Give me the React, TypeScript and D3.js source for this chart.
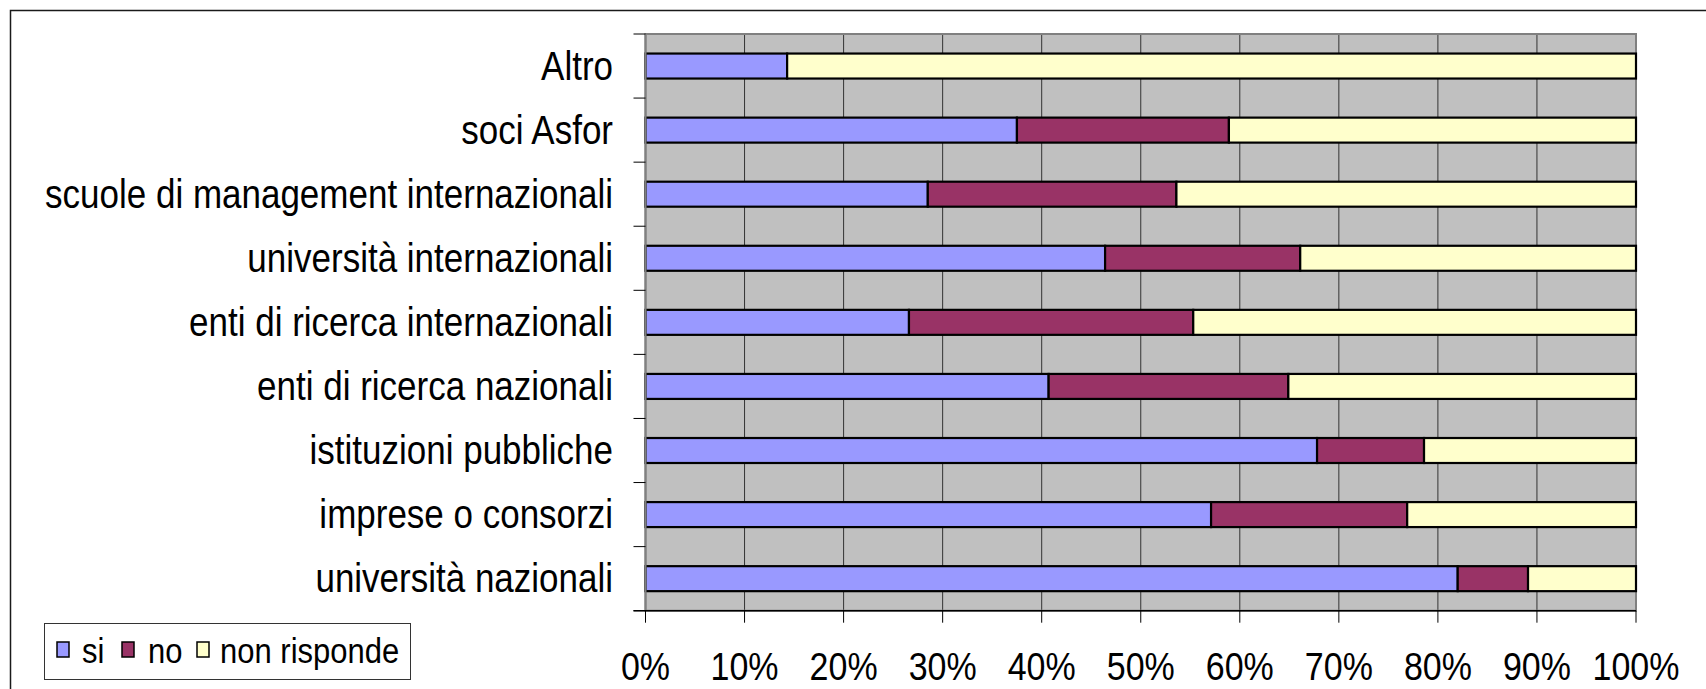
import React from 'react';
import * as d3 from 'd3';

// categories, bottom to top as Excel draws them
const categories = [
  'università nazionali',
  'imprese o consorzi',
  'istituzioni pubbliche',
  'enti di ricerca nazionali',
  'enti di ricerca internazionali',
  'università internazionali',
  'scuole di management internazionali',
  'soci Asfor',
  'Altro',
];
const siValues = [82.0, 57.1, 67.8, 40.7, 26.6, 46.4, 28.5, 37.5, 14.3];
const noValues = [7.1, 19.8, 10.8, 24.2, 28.7, 19.7, 25.1, 21.4, 0];
const nonRispondeValues = [10.9, 23.1, 21.4, 35.1, 44.7, 33.9, 46.4, 41.1, 85.7];
const seriesNames = ['si', 'no', 'non risponde'];
const seriesColors = ['#9999FF', '#993366', '#FFFFCC'];
const xTicks = [0, 10, 20, 30, 40, 50, 60, 70, 80, 90, 100];

const W = 1706;
const H = 689;
const font = '"Liberation Sans", Arial, Helvetica, sans-serif';
const stretch = 1.15; // text in the original is a bit taller than wide

export default function App() {
  const left = 645.5, right = 1636, top = 34, bottom = 610.7;

  const x = d3.scaleLinear().domain([0, 100]).range([left, right]);
  // top of picture = last category
  const y = d3.scaleBand<string>()
    .domain(categories.slice().reverse())
    .range([top, bottom])
    .padding(0);
  const barH = y.bandwidth() * 0.39;

  const rows = categories.map((c, i) => ({
    cat: c,
    si: siValues[i],
    no: noValues[i],
    'non risponde': nonRispondeValues[i],
  }));
  const stacked = d3.stack<any>().keys(seriesNames)(rows);

  const legendItems = [
    { name: 'si', sx: 57, tx: 82 },
    { name: 'no', sx: 122, tx: 148 },
    { name: 'non risponde', sx: 197, tx: 220 },
  ];

  const tr = (tx: number, ty: number) => `translate(${tx},${ty}) scale(1,${stretch})`;

  return (
    <svg width={W} height={H} style={{ position: 'fixed', left: 0, top: 0, background: '#fff' }}
      fontFamily={font}>
      {/* chart area border */}
      <rect x={10.5} y={10.5} width={1720} height={720} fill="#fff" stroke="#1a1a1a" strokeWidth={1.5} />

      {/* plot area */}
      <rect x={left} y={top} width={right - left} height={bottom - top} fill="#C0C0C0" />
      {xTicks.slice(1, -1).map(t => (
        <line key={'g' + t} x1={x(t)} x2={x(t)} y1={top} y2={bottom} stroke="#333" strokeWidth={1} />
      ))}
      <rect x={left} y={top} width={right - left} height={bottom - top} fill="none" stroke="#808080" strokeWidth={2} />

      {/* bars */}
      {stacked.map((s, si) => (
        <g key={s.key}>
          {s.map((d, i) => {
            const w = x(d[1]) - x(d[0]);
            if (w <= 0) return null;
            const yc = (y(categories[i]) as number) + y.bandwidth() / 2;
            return (
              <rect key={i} x={x(d[0])} y={yc - barH / 2} width={w} height={barH}
                fill={seriesColors[si]} stroke="#000" strokeWidth={2.2} />
            );
          })}
        </g>
      ))}

      {/* y axis ticks */}
      <line x1={left} x2={left} y1={top} y2={bottom} stroke="#808080" strokeWidth={2} />
      {categories.concat(['']).map((c, i) => {
        const yy = top + i * y.step();
        return <line key={'yt' + i} x1={left - 12} x2={left} y1={yy} y2={yy} stroke="#000" strokeWidth={1} />;
      })}
      {categories.map(c => (
        <text key={c} transform={tr(613, (y(c) as number) + y.bandwidth() / 2 + 13.8)}
          textAnchor="end" fontSize={35} fill="#000">{c}</text>
      ))}

      {/* x axis */}
      <line x1={left - 12} x2={right} y1={bottom} y2={bottom} stroke="#000" strokeWidth={1.5} />
      {xTicks.map(t => (
        <g key={'xt' + t}>
          <line x1={x(t)} x2={x(t)} y1={bottom} y2={bottom + 12} stroke="#000" strokeWidth={1} />
          <text transform={tr(x(t), 680)} textAnchor="middle" fontSize={34} fill="#000">
            {d3.format('.0%')(t / 100)}
          </text>
        </g>
      ))}

      {/* legend */}
      <rect x={44.5} y={623.5} width={366} height={56} fill="#fff" stroke="#333" strokeWidth={1} />
      {legendItems.map((it, i) => (
        <g key={it.name}>
          <rect x={it.sx} y={642} width={12} height={15} fill={seriesColors[i]} stroke="#000" strokeWidth={1.5} />
          <text transform={tr(it.tx, 663)} fontSize={31} fill="#000">{it.name}</text>
        </g>
      ))}
    </svg>
  );
}
